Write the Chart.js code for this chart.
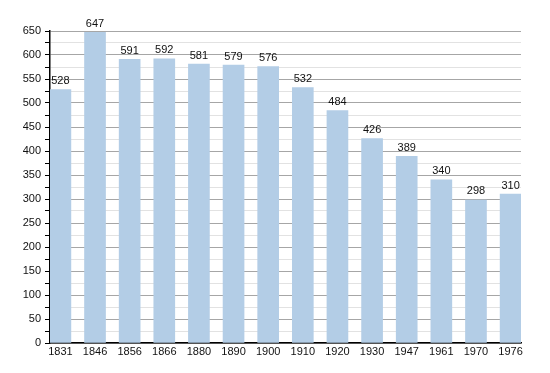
<!DOCTYPE html>
<html>
<head>
<meta charset="utf-8">
<script src="https://cdn.jsdelivr.net/npm/chart.js@4/dist/chart.umd.min.js"></script>
<style>
  html, body { margin: 0; padding: 0; background: #fff; }
  #wrap { width: 550px; height: 373px; }
</style>
</head>
<body>
<div id="wrap"><canvas id="chart" width="550" height="373"></canvas></div>
<script>
const years = ['1831', '1846', '1856', '1866', '1880', '1890', '1900', '1910', '1920', '1930', '1947', '1961', '1970', '1976'];
const population = [528, 647, 591, 592, 581, 579, 576, 532, 484, 426, 389, 340, 298, 310];
const yMax = 650;
const yStep = 25;

const FONT = 'Arial, "Liberation Sans", sans-serif';

// values above the bars
const barLabels = {
  id: 'barLabels',
  afterDatasetsDraw(chart) {
    const ctx = chart.ctx;
    const meta = chart.getDatasetMeta(0);
    ctx.save();
    ctx.font = '11px ' + FONT;
    ctx.fillStyle = '#111';
    ctx.textAlign = 'center';
    ctx.textBaseline = 'bottom';
    meta.data.forEach((bar, i) => {
      ctx.fillText(population[i], bar.x, bar.y - 3);
    });
    ctx.restore();
  }
};

new Chart(document.getElementById('chart'), {
  type: 'bar',
  data: {
    datasets: [{
      data: population.map((v, i) => ({ x: i, y: v })),
      backgroundColor: '#b3cde6',
      barThickness: 21
    }]
  },
  options: {
    responsive: false,
    animation: false,
    layout: { padding: { left: 0, right: 29, top: 31, bottom: 0 } },
    plugins: { legend: { display: false }, tooltip: { enabled: false } },
    scales: {
      x: {
        type: 'linear',
        min: -0.3,
        max: years.length - 0.7,
        offset: false,
        grid: { display: false, drawTicks: false },
        border: { color: '#000', width: 1.5 },
        ticks: {
          color: '#111', font: { family: FONT, size: 11 }, padding: 2, maxRotation: 0, autoSkip: false,
          callback: v => years[v]
        },
        afterBuildTicks(scale) { scale.ticks = years.map((_, i) => ({ value: i })); },
        afterFit(scale) { scale.height = 30; }
      },
      y: {
        min: 0,
        max: yMax,
        border: { color: '#000', width: 1.5 },
        grid: {
          color: c => (c.tick && c.tick.value % 50 === 0) ? '#a6a6a6' : '#e2e2e2',
          tickColor: '#000',
          tickLength: 5,
          lineWidth: 1
        },
        ticks: {
          stepSize: yStep,
          autoSkip: false,
          color: '#111',
          font: { family: FONT, size: 11 },
          padding: 4,
          callback: v => (v % 50 === 0 ? v : '')
        },
        afterFit(scale) { scale.width = 50; }
      }
    }
  },
  plugins: [barLabels]
});
</script>
</body>
</html>
